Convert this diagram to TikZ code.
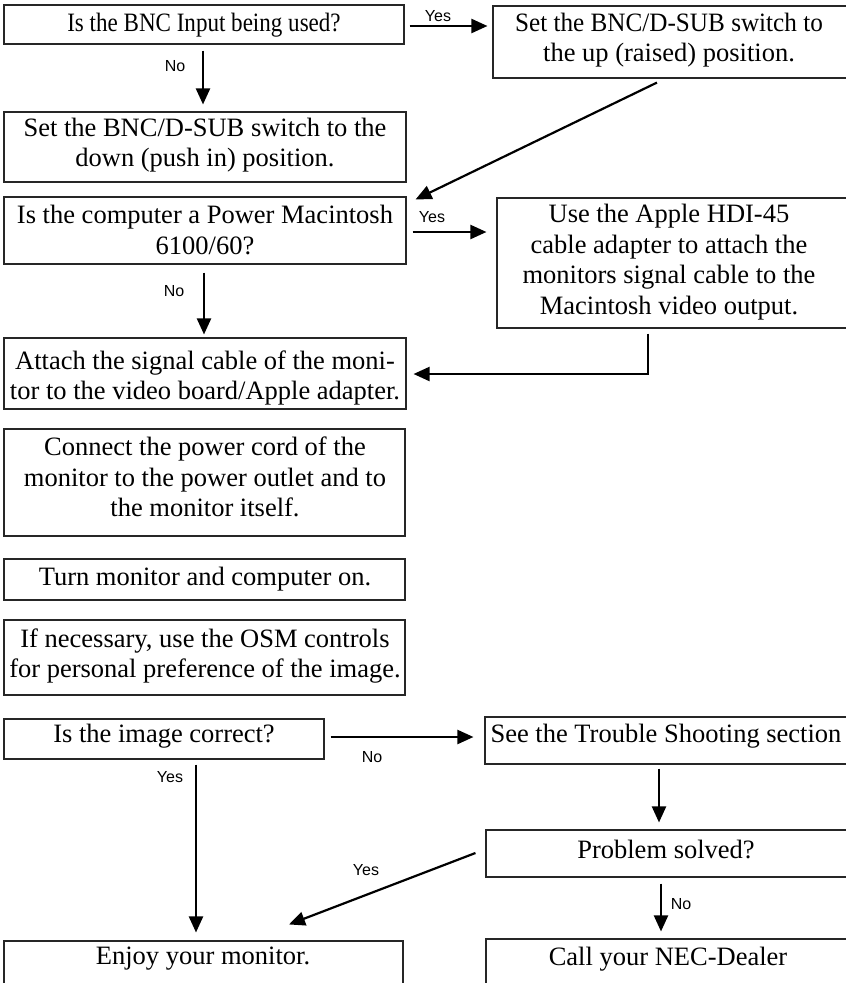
\documentclass[tikz,border=0pt]{standalone}
\usepackage{fontspec}
\usepackage{graphicx}
\setmainfont{Liberation Serif}
\newfontfamily\labfont{Liberation Sans}
\usetikzlibrary{calc,arrows.meta}
\tikzset{
  boxst/.style={draw=black!85, line width=1.1pt, rectangle, inner sep=0pt},
  txt/.style={inner sep=0pt, align=center, font=\fontsize{26.5}{30.5}\selectfont},
  lab/.style={inner sep=0pt, font=\labfont\fontsize{16}{18}\selectfont},
  arr/.style={line width=2.2pt, -{Triangle[length=16pt,width=14pt]}},
}
\newcommand\flowbox[8]{%
  \node[boxst, minimum width={#4-#2}, minimum height={#5-#3}] (#1) at ({(#2+#4)/2},{(#3+#5)/2}) {};
  \node[txt] (#1t) at (#6,#7) {#8};}
\begin{document}
\begin{tikzpicture}[x=1pt,y=-1pt]
\useasboundingbox (0,0) rectangle (846,983);
\clip (0,0) rectangle (846,983);
% boxes
\flowbox{b1}{4}{5}{404}{44}{204}{25}{\scalebox{0.87}[1]{Is the BNC Input being used?}}
\flowbox{b2}{493}{6}{850}{78}{669}{40}{\scalebox{0.95}[1]{Set the BNC/D-SUB switch to}\\the up (raised) position.}
\flowbox{b3}{4}{112}{406}{182}{205}{145}{Set the BNC/D-SUB switch to the\\down (push in) position.}
\flowbox{b4}{4}{197}{406}{264}{205}{230}{Is the computer a Power Macintosh\\6100/60?}
\flowbox{b5}{497}{198}{850}{328}{669}{262}{Use the Apple HDI-45\\cable adapter to attach the\\monitors signal cable to the\\Macintosh video output.}
\flowbox{b6}{4}{338}{406}{409}{205}{378}{Attach the signal cable of the moni-\\tor to the video board/Apple adapter.}
\flowbox{b7}{4}{429}{405}{536}{205}{477}{Connect the power cord of the\\monitor to the power outlet and to\\the monitor itself.}
\flowbox{b8}{4}{559}{405}{600}{205}{579}{Turn monitor and computer on.}
\flowbox{b9}{4}{620}{405}{695}{205}{656}{If necessary, use the OSM controls\\for personal preference of the image.}
\flowbox{b10}{4}{719}{324}{759}{164}{736}{Is the image correct?}
\flowbox{b11}{485}{717}{850}{764}{666}{736}{See the Trouble Shooting section}
\flowbox{b12}{486}{830}{850}{877}{666}{849}{Problem solved?}
\flowbox{b13}{4}{941}{403}{1000}{203}{959}{Enjoy your monitor.}
\flowbox{b14}{486}{939}{850}{1000}{668}{959}{Call your NEC-Dealer}
% labels
\node[lab] (l1) at (438,16) {Yes};
\node[lab] (l2) at (175,66) {No};
\node[lab] (l3) at (432,217) {Yes};
\node[lab] (l4) at (174,291) {No};
\node[lab] (l5) at (372,757) {No};
\node[lab] (l6) at (170,777) {Yes};
\node[lab] (l7) at (366,870) {Yes};
\node[lab] (l8) at (681,904) {No};
% connectors
\draw[arr] ($(b1.east)+(5,1.5)$) -- ($(b2.west|-b1.east)+(-5,1.5)$);
\draw[arr] ($(b1.south)+(-1,6)$) -- ($(b3.north)+(-2,-7)$);
\draw[arr] ($(b2.south)+(-14.5,4)$) -- ($(b4.north east)+(9,3)$);
\draw[arr] ($(b4.east)+(6,1.5)$) -- ($(b5.west|-b4.east)+(-10,1.5)$);
\draw[arr] ($(b4.south)+(-1,8)$) -- ($(b6.north)+(-1,-3)$);
\draw[arr] ($(b5.south)+(-25.5,5)$) |- ($(b6.east)+(7,0.5)$);
\draw[arr] ($(b10.east)+(6,-2)$) -- ($(b11.west|-b10.east)+(-11,-2)$);
\draw[arr] ($(b10.south)+(32,5)$) -- ($(b13.north)+(-7.5,-8)$);
\draw[arr] ($(b11.south)+(-8.5,4)$) -- ($(b12.north)+(-9,-7)$);
\draw[arr] ($(b12.west)+(-10,-0.5)$) -- ($(b13.north)+(85.5,-16)$);
\draw[arr] ($(b12.south)+(-7,6)$) -- ($(b14.north)+(-7,-7)$);
\end{tikzpicture}
\end{document}
